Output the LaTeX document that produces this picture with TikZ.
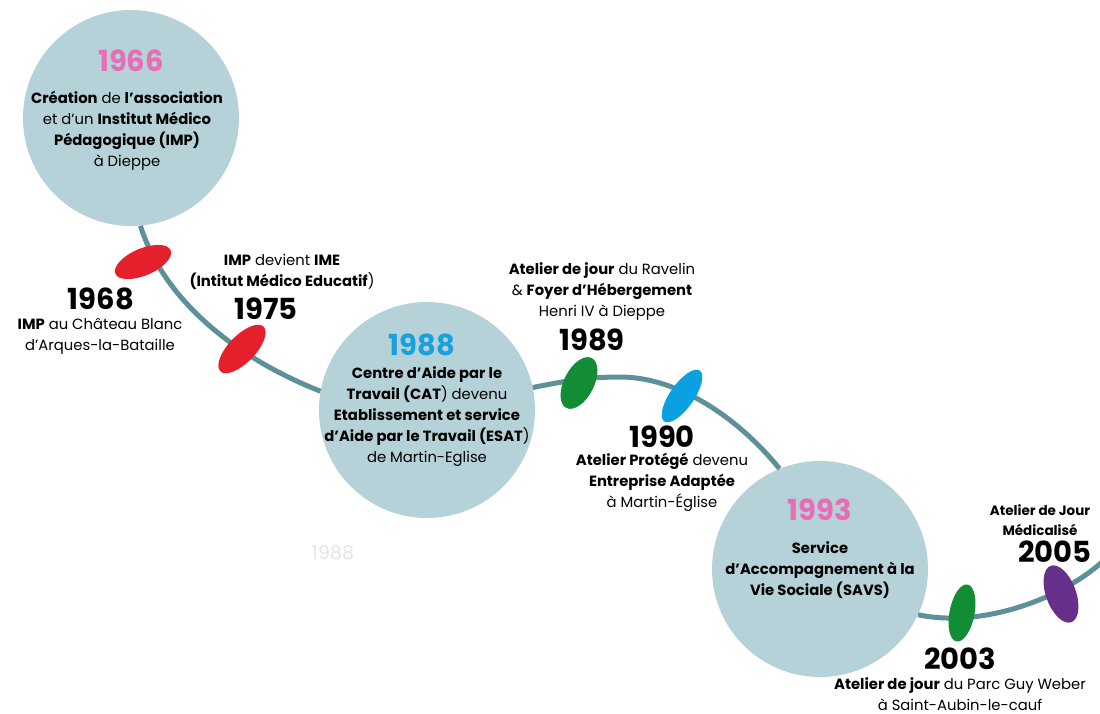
\documentclass[tikz,border=0pt]{standalone}
\usepackage{fontspec}
\setmainfont{Poppins}
\usepackage{tikz}
\usetikzlibrary{shapes.geometric, positioning}
\definecolor{circlefill}{HTML}{B4D2D8}
\definecolor{linecol}{HTML}{5E909A}
\definecolor{yearpink}{HTML}{E86DB4}
\definecolor{yearblue}{HTML}{18A1DE}
\definecolor{blobred}{HTML}{E4202C}
\definecolor{blobgreen}{HTML}{128C35}
\definecolor{blobblue}{HTML}{0AA0E2}
\definecolor{blobpurple}{HTML}{66308A}
\tikzset{
	yearcircle/.style={circle, fill=circlefill, minimum size=216pt, inner sep=0pt},
	blob/.style={ellipse, inner sep=0pt, minimum width=60pt, minimum height=27pt},
	bigyear/.style={font=\fontsize{29}{30}\selectfont\bfseries},
	info/.style={align=center, inner sep=0pt, font=\fontsize{14.8}{21}\selectfont},
	timeline/.style={linecol, line width=5pt}
}

\begin{document}
\begin{tikzpicture}[x=1pt, y=-1pt]
				\useasboundingbox (0,0) rectangle (1100,714);
				% the three big circles
				\node[yearcircle] (c1966) at (131,118) {};
				\node[yearcircle] (c1988) at (427,410) {};
				\node[yearcircle] (c1993) at (820,569) {};
				\coordinate (top1989) at (620,377);
				\coordinate (rightend) at (1102,562);
				
				\draw[timeline] (c1966.-85) .. controls (166,307) and (246,362) .. (c1988.170);
				\draw[timeline] (c1988.12) .. controls (570,380) and (590,377) .. (top1989)
				.. controls (680,377) and (740,420) .. (c1993.112);
				\draw[timeline] (c1993.-25) .. controls (980,628) and (1060,600) .. (rightend);
				
				% petals on the line
				\node[blob, fill=blobred, rotate=23] (p1968) at (143,262) {};
				\node[blob, fill=blobred, rotate=46, minimum width=62pt] (p1975) at (242,349) {};
				\node[blob, fill=blobgreen, rotate=63, minimum width=56pt, minimum height=30pt] (p1989) at (579,383) {};
				\node[blob, fill=blobblue, rotate=55, minimum width=62pt, minimum height=24pt] (p1990) at (682,396) {};
				\node[blob, fill=blobgreen, rotate=79, minimum width=58pt, minimum height=25pt] (p2003) at (962,613) {};
				\node[blob, fill=blobpurple, rotate=-70, minimum width=60pt, minimum height=30pt] (p2005) at (1061,594) {};
				
				% texts in the circles
				\node[bigyear, yearpink] (y1966) at (131,61) {1966};
				\node[info] (t1966) at (127,131) {\textbf{Création} de \textbf{l’association}\\ et d’un \textbf{Institut Médico}\\ \textbf{Pédagogique (IMP)}\\ à Dieppe};
				\node[bigyear, yearblue] (y1988) at (422,345) {1988};
				\node[info] (t1988) at (427,417) {\textbf{Centre d’Aide par le}\\ \textbf{Travail (CAT}) devenu\\ \textbf{Etablissement et service}\\ \textbf{d’Aide par le Travail (ESAT})\\ de Martin-Eglise};
				\node[bigyear, yearpink] (y1993) at (820,510) {1993};
				\node[info] (t1993) at (820,570) {\textbf{Service}\\ \textbf{d’Accompagnement à la}\\ \textbf{Vie Sociale (SAVS)}};
				
				% texts around the line
				\node[bigyear] (y1968) at (101,299) {1968};
				\node[info] (t1968) at (100,336) {\textbf{IMP} au Château Blanc\\ d’Arques-la-Bataille};
				\node[info] (t1975) at (282,272) {\textbf{IMP} devient \textbf{IME}\\ \textbf{(Intitut Médico Educatif})};
				\node[bigyear] (y1975) at (266,309) {1975};
				\node[info] (t1989) at (602,291) {\textbf{Atelier de jour} du Ravelin\\ \& \textbf{Foyer d’Hébergement}\\ Henri IV à Dieppe};
				\node[bigyear] (y1989) at (592,340) {1989};
				\node[bigyear] (y1990) at (662,437) {1990};
				\node[info] (t1990) at (662,482) {\textbf{Atelier Protégé} devenu\\ \textbf{Entreprise Adaptée}\\ à Martin-Église};
				\node[info, font=\fontsize{13.5}{20}\selectfont] (t2005) at (1040,520) {\textbf{Atelier de Jour}\\ \textbf{Médicalisé}};
				\node[bigyear] (y2005) at (1055,552) {2005};
				\node[bigyear] (y2003) at (960,659) {2003};
				\node[info] (t2003) at (960,694) {\textbf{Atelier de jour} du Parc Guy Weber\\ à Saint-Aubin-le-cauf};
				\node[font=\fontsize{19}{20}\selectfont, black!10] (ghost) at (333,553) {1988};
\end{tikzpicture}
\end{document}
